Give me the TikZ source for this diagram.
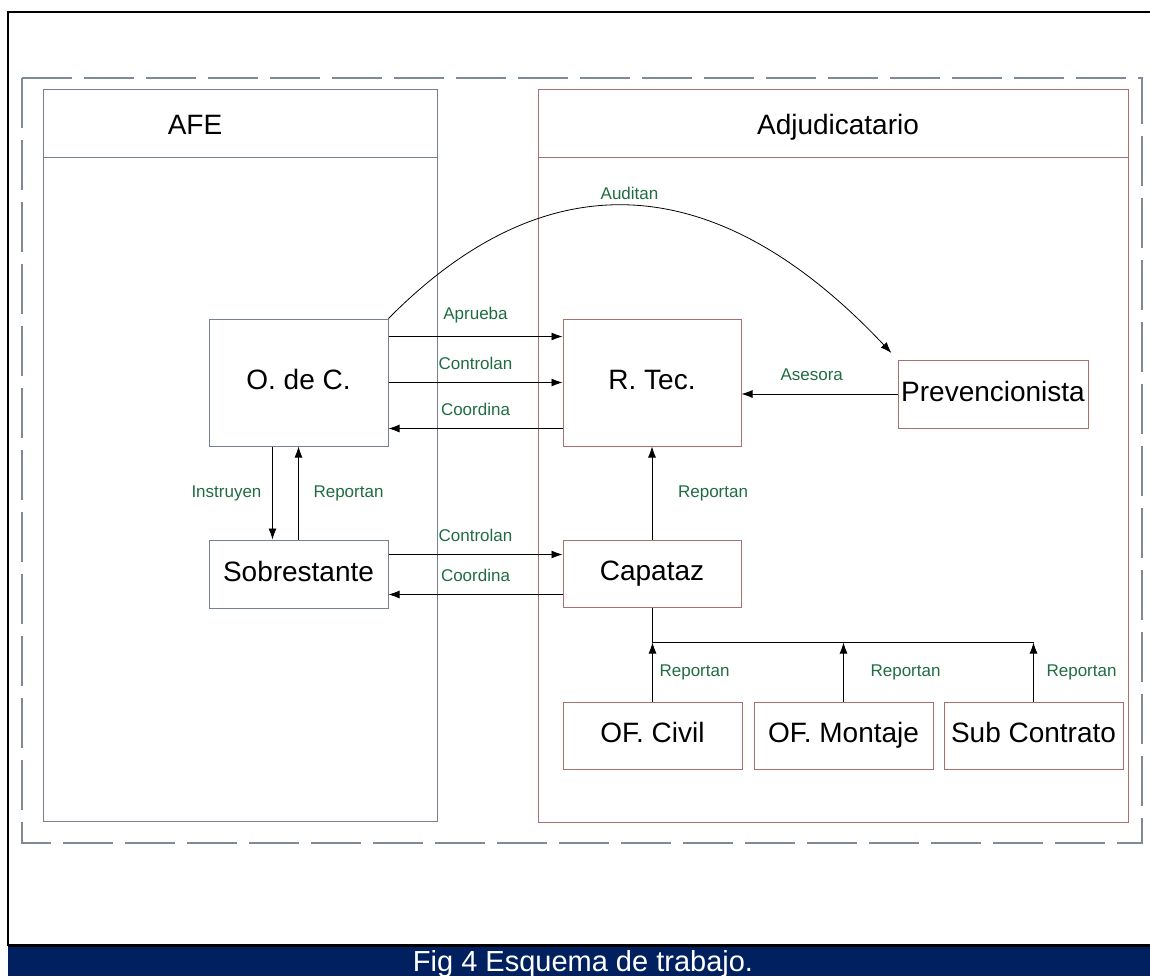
\documentclass[tikz,border=0pt]{standalone}
\usepackage{fontspec}
\setmainfont{Liberation Sans}
\usetikzlibrary{arrows.meta,positioning,calc}

\definecolor{afegray}{RGB}{118,128,144}
\definecolor{adjred}{RGB}{168,112,112}
\definecolor{dashgray}{RGB}{128,138,150}
\definecolor{lblgreen}{RGB}{32,108,66}
\definecolor{capnavy}{RGB}{0,32,96}

\begin{document}
\begin{tikzpicture} [x=0.5pt,y=-0.5pt,->,>={Latex[length=5.5pt,width=4pt]},line width=0.4pt,
  afebox/.style={draw=afegray,line width=0.5pt,inner sep=0pt,minimum width=89.5pt,text height=10pt,text depth=3pt,font=\fontsize{14}{16}\selectfont},
  adjbox/.style={draw=adjred,line width=0.5pt,inner sep=0pt,minimum width=89pt,text height=10pt,text depth=3pt,font=\fontsize{14}{16}\selectfont},
  title/.style={text height=10pt,text depth=3pt,font=\fontsize{14}{16}\selectfont},
  lbl/.style={text=lblgreen,font=\fontsize{8.5}{10}\selectfont}]

  \useasboundingbox (0,0) rectangle (1150,976);

  % frame and caption
  \draw[-,line width=1pt] (8,946) -- (8,12) -- (1150,12);
  \fill[capnavy] (8,946) rectangle (1150,976);
  \draw[-,line width=1.5pt] (8,945) -- (1150,945);
  \node[anchor=base,text=white,font=\fontsize{14.5}{16}\selectfont] (capt) at (583,971) {Fig 4 Esquema de trabajo.};

  % outer dashed border
  \draw[-,dashgray,line width=0.6pt,dash pattern=on 25pt off 6pt] (22,78) rectangle (1142,843);

  % containers
  \draw[-,afegray,line width=0.5pt] (43,89) rectangle (437,821) (43,157) -- (437,157);
  \draw[-,adjred,line width=0.5pt] (538,89) rectangle (1128,822) (538,157) -- (1128,157);
  \node[title] (afet) at (195,127) {AFE};
  \node[title] (adjt) at (838,127) {Adjudicatario};

  % boxes
  \node[afebox,minimum height=63.5pt] (ode) at (298.5,382.5) {O. de C.};
  \node[afebox,minimum height=34pt] (sob) at (298.5,574) {Sobrestante};
  \node[adjbox,minimum height=63.5pt] (rtec) at (652,382.5) {R. Tec.};
  \node[adjbox,minimum width=95pt,minimum height=34pt] (prev) at (993,394) {Prevencionista};
  \node[adjbox,minimum height=33.5pt] (cap) at (652,573.5) {Capataz};
  \node[adjbox,minimum width=89.5pt,minimum height=33.5pt] (civil) at (652.5,735.5) {OF. Civil};
  \node[adjbox,minimum width=89.5pt,minimum height=33.5pt] (mont) at (843.5,735.5) {OF. Montaje};
  \node[adjbox,minimum width=89.5pt,minimum height=33.5pt] (sub) at (1033.5,735.5) {Sub Contrato};

  % O. de C. <-> R. Tec.
  \coordinate (apr) at ($(ode.north east)+(0,18)$);
  \draw (apr) -- (apr -| rtec.west) node[lbl,midway,above=3pt] {Aprueba};
  \draw (ode.east) -- (rtec.west) node[lbl,midway,above=3pt] {Controlan};
  \coordinate (coo) at ($(rtec.north west)+(0,110)$);
  \draw (coo) -- (coo -| ode.east) node[lbl,midway,above=3pt] {Coordina};

  % O. de C. <-> Sobrestante
  \coordinate (ins) at ($(ode.south west)+(64,0)$);
  \draw (ins) -- (ins |- sob.north) node[lbl,midway,left=2pt] {Instruyen};
  \draw (sob.north) -- (ode.south) node[lbl,midway,right=4pt] {Reportan};

  % Sobrestante <-> Capataz
  \coordinate (con) at ($(sob.north east)+(0,15)$);
  \draw (con) -- (con -| cap.west) node[lbl,midway,above=3pt] {Controlan};
  \coordinate (co2) at ($(cap.north west)+(0,55)$);
  \draw (co2) -- (co2 -| sob.east) node[lbl,midway,above=3pt] {Coordina};

  % Adjudicatario side
  \draw (prev.west) -- (prev.west -| rtec.east) node[lbl,pos=0.55,above=3pt] {Asesora};
  \draw (cap.north) -- (rtec.south) node[lbl,midway,right=9.5pt] {Reportan};
  \draw[shorten >=4.5pt] (ode.north east) .. controls (540,165) and (710,160) .. (prev.north west)
    node[lbl,pos=0.5,above] {Auditan};

  \coordinate (bus) at ($(cap.south)+(0,35)$);
  \draw[-] (cap.south) -- (bus) -- (bus -| sub.north);
  \draw (civil.north) -- (civil.north |- bus) node[lbl,midway,right=0pt] {Reportan};
  \draw (mont.north) -- (mont.north |- bus) node[lbl,midway,right=10pt] {Reportan};
  \draw (sub.north) -- (sub.north |- bus) node[lbl,midway,right=3pt] {Reportan};

\end{tikzpicture}
\end{document}
